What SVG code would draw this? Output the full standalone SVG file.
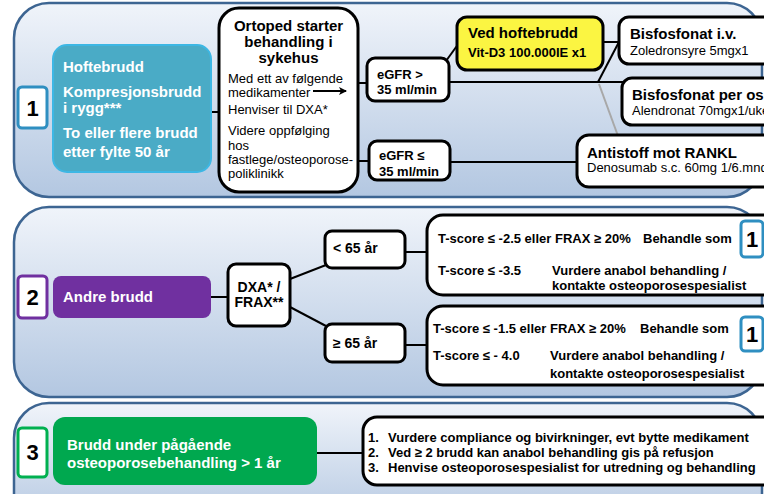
<svg xmlns="http://www.w3.org/2000/svg" width="764" height="494" viewBox="0 0 764 494">
<defs>
<linearGradient id="pg" x1="0" y1="0" x2="0" y2="1">
<stop offset="0" stop-color="#f0f4fa"/>
<stop offset="1" stop-color="#b3c7e1"/>
</linearGradient>
<marker id="arr" markerWidth="8" markerHeight="8" refX="7" refY="4" orient="auto" markerUnits="userSpaceOnUse">
<path d="M0,0 L8,4 L0,8 L2,4 Z" fill="#000"/>
</marker>
</defs>
<style>
.panel{fill:url(#pg);stroke:#3d6592;stroke-width:2.5}
.box{fill:#fff;stroke:#000;stroke-width:3}
.num{fill:#fff;stroke-width:3}
.numt{font-family:"Liberation Sans",Arial,sans-serif;font-weight:bold;font-size:22px;fill:#000;text-anchor:middle}
.wb{font-family:"Liberation Sans",Arial,sans-serif;font-weight:bold;font-size:15px;fill:#fff}
.b15{font-family:"Liberation Sans",Arial,sans-serif;font-weight:bold;font-size:15px;fill:#000}
.b13{font-family:"Liberation Sans",Arial,sans-serif;font-weight:bold;font-size:13px;fill:#000}
.r13{font-family:"Liberation Sans",Arial,sans-serif;font-size:13px;fill:#000}
.b14{font-family:"Liberation Sans",Arial,sans-serif;font-weight:bold;font-size:14px;fill:#000}
.ln{stroke:#000;stroke-width:2;fill:none}
</style>

<g id="panels">
<rect class="panel" x="14" y="3" width="748" height="194" rx="35"/>
<rect class="panel" x="14" y="207" width="748" height="190" rx="35"/>
<rect class="panel" x="14" y="403" width="748" height="125" rx="35"/>
</g>

<g id="connectors">
<line class="ln" x1="211" y1="112" x2="219" y2="112"/>
<line class="ln" x1="357" y1="83" x2="368" y2="83"/>
<line class="ln" x1="357" y1="161" x2="370" y2="161"/>
<line class="ln" x1="449" y1="82" x2="623" y2="82"/>
<line class="ln" x1="446" y1="61" x2="459" y2="43"/>
<line class="ln" x1="602" y1="42" x2="620" y2="42"/>
<line class="ln" x1="598" y1="82" x2="620" y2="40"/>
<line stroke="#a8a8a8" stroke-width="2" x1="599" y1="84" x2="618" y2="136"/>
<line class="ln" x1="450" y1="162" x2="578" y2="162"/>
<line class="ln" x1="211" y1="297" x2="229" y2="297"/>
<line class="ln" x1="290" y1="279" x2="326" y2="265"/>
<line class="ln" x1="290" y1="307" x2="326" y2="326"/>
<line class="ln" x1="405" y1="252" x2="428" y2="252"/>
<line class="ln" x1="405" y1="345" x2="428" y2="345"/>
<line class="ln" x1="317" y1="453" x2="364" y2="453"/>
</g>

<g id="n1">
<rect class="num" stroke="#2f8fc1" x="18" y="87" width="29" height="41" rx="4"/>
<text class="numt" x="32.5" y="115.5">1</text>
</g>
<g id="hofte">
<rect x="53" y="45" width="158" height="127" rx="14" fill="#4aabc6" stroke="#3db7e4" stroke-width="2"/>
<text class="wb" x="63" y="72">Hoftebrudd</text>
<text class="wb" x="63" y="97">Kompresjonsbrudd</text>
<text class="wb" x="63" y="113">i rygg***</text>
<text class="wb" x="63" y="138">To eller flere brudd</text>
<text class="wb" x="63" y="157">etter fylte 50 år</text>
</g>
<g id="ortoped">
<rect class="box" x="219" y="8" width="139" height="184" rx="20"/>
<text class="b15" x="288.5" y="31" text-anchor="middle">Ortoped starter</text>
<text class="b15" x="288.5" y="47" text-anchor="middle">behandling i</text>
<text class="b15" x="288.5" y="63" text-anchor="middle">sykehus</text>
<text class="r13" x="228" y="83">Med ett av følgende</text>
<text class="r13" x="228" y="97">medikamenter</text>
<line class="ln" x1="313" y1="91" x2="346" y2="91" marker-end="url(#arr)"/>
<text class="r13" x="228" y="114">Henviser til DXA*</text>
<text class="r13" x="228" y="135">Videre oppfølging</text>
<text class="r13" x="228" y="150">hos</text>
<text class="r13" x="228" y="164">fastlege/osteoporose-</text>
<text class="r13" x="228" y="178">poliklinikk</text>
</g>
<g id="egfr-gt">
<rect class="box" x="367" y="58" width="82" height="43" rx="8"/>
<text class="b13" x="377" y="79">eGFR &gt;</text>
<text class="b13" x="377" y="94">35 ml/min</text>
</g>
<g id="egfr-le">
<rect class="box" x="369" y="141" width="81" height="39" rx="8"/>
<text class="b13" x="379" y="160">eGFR ≤</text>
<text class="b13" x="379" y="176">35 ml/min</text>
</g>
<g id="vitd">
<rect x="457" y="17" width="146" height="53" rx="10" fill="#fbf542" stroke="#000" stroke-width="3"/>
<text class="b15" x="468" y="38">Ved hoftebrudd</text>
<text class="b13" x="468" y="57">Vit-D3 100.000IE x1</text>
</g>
<g id="bisf-iv">
<rect class="box" x="619" y="17" width="190" height="47" rx="10"/>
<text class="b15" x="630" y="39">Bisfosfonat i.v.</text>
<text class="r13" x="630" y="55">Zoledronsyre 5mgx1</text>
</g>
<g id="bisf-os">
<rect class="box" x="622" y="78" width="190" height="47" rx="10"/>
<text class="b15" x="632" y="100">Bisfosfonat per os</text>
<text class="r13" x="632" y="115">Alendronat 70mgx1/uke</text>
</g>
<g id="antistoff">
<rect class="box" x="577" y="135" width="230" height="52" rx="12"/>
<text class="b15" x="587" y="158">Antistoff mot RANKL</text>
<text class="r13" x="587" y="172">Denosumab s.c. 60mg 1/6.mnd</text>
</g>

<g id="n2">
<rect class="num" stroke="#7030a0" x="18" y="276" width="29" height="42" rx="4"/>
<text class="numt" x="32.5" y="305">2</text>
</g>
<g id="andre">
<rect x="53" y="276" width="158" height="42" rx="8" fill="#7030a0"/>
<text class="wb" x="63" y="302">Andre brudd</text>
</g>
<g id="dxa">
<rect class="box" x="228" y="264" width="62" height="62" rx="8"/>
<text class="b14" x="259" y="292" text-anchor="middle">DXA* /</text>
<text class="b14" x="259" y="307" text-anchor="middle">FRAX**</text>
</g>
<g id="lt65">
<rect class="box" x="325" y="231" width="80" height="37" rx="7"/>
<text class="b14" x="333" y="253">&lt; 65 år</text>
</g>
<g id="ge65">
<rect class="box" x="325" y="324" width="80" height="38" rx="7"/>
<text class="b14" x="333" y="348">≥ 65 år</text>
</g>
<g id="tscore1">
<rect class="box" x="427" y="215" width="380" height="80" rx="16"/>
<text class="b13" x="438" y="243">T-score ≤ -2.5 eller FRAX ≥ 20%</text>
<text class="b13" x="643" y="243">Behandle som</text>
<rect class="num" stroke="#2f8fc1" x="741" y="221" width="22" height="36" rx="4"/>
<text class="numt" x="752" y="247">1</text>
<text class="b13" x="438" y="275">T-score ≤ -3.5</text>
<text class="b13" x="552" y="275">Vurdere anabol behandling /</text>
<text class="b13" x="552" y="290">kontakte osteoporosespesialist</text>
</g>
<g id="tscore2">
<rect class="box" x="427" y="306" width="380" height="79" rx="16"/>
<text class="b13" x="433" y="333">T-score ≤ -1.5 eller FRAX ≥ 20%</text>
<text class="b13" x="640" y="333">Behandle som</text>
<rect class="num" stroke="#2f8fc1" x="741" y="317" width="22" height="34" rx="4"/>
<text class="numt" x="752" y="342">1</text>
<text class="b13" x="433" y="360">T-score ≤ - 4.0</text>
<text class="b13" x="550" y="360">Vurdere anabol behandling /</text>
<text class="b13" x="550" y="378">kontakte osteoporosespesialist</text>
</g>

<g id="n3">
<rect class="num" stroke="#00b050" x="18" y="428" width="29" height="49" rx="4"/>
<text class="numt" x="32.5" y="460">3</text>
</g>
<g id="brudd-under">
<rect x="53" y="417" width="264" height="68" rx="12" fill="#00a84f"/>
<text class="wb" x="67" y="450">Brudd under pågående</text>
<text class="wb" x="67" y="468">osteoporosebehandling &gt; 1 år</text>
</g>
<g id="tiltak">
<rect class="box" x="363" y="417" width="440" height="68" rx="14"/>
<text class="b13" x="368" y="442">1.</text>
<text class="b13" x="388" y="442">Vurdere compliance og bivirkninger, evt bytte medikament</text>
<text class="b13" x="368" y="457">2.</text>
<text class="b13" x="388" y="457">Ved ≥ 2 brudd kan anabol behandling gis på refusjon</text>
<text class="b13" x="368" y="472">3.</text>
<text class="b13" x="388" y="472">Henvise osteoporosespesialist for utredning og behandling</text>
</g>
</svg>
